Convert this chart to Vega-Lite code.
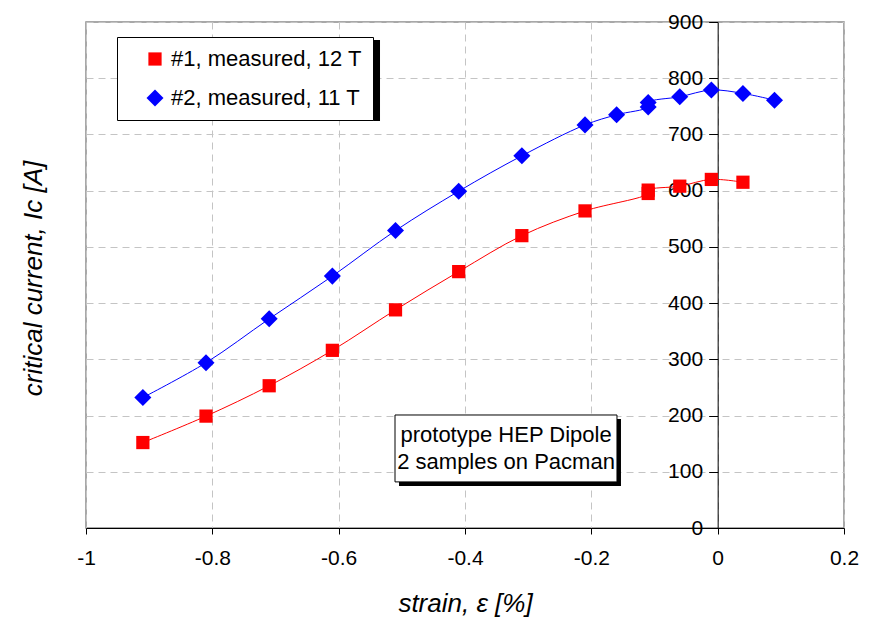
{
  "$schema": "https://vega.github.io/schema/vega-lite/v6.json",
  "width": 758,
  "height": 506,
  "autosize": "none",
  "padding": {"left": 86, "top": 22, "right": 39, "bottom": 106},
  "background": "white",
  "config": {
    "font": "Liberation Sans",
    "view": {"stroke": "#8c8c8c", "strokeWidth": 1.5},
    "axis": {"labelFont": "Liberation Sans", "titleFont": "Liberation Sans", "labelColor": "black", "titleColor": "black"}
  },
  "datasets": {
    "measurements": [
      {"strain": -0.91, "current": 152, "sample": "#1, measured, 12 T"},
      {"strain": -0.81, "current": 199, "sample": "#1, measured, 12 T"},
      {"strain": -0.71, "current": 253, "sample": "#1, measured, 12 T"},
      {"strain": -0.61, "current": 316, "sample": "#1, measured, 12 T"},
      {"strain": -0.51, "current": 388, "sample": "#1, measured, 12 T"},
      {"strain": -0.41, "current": 456, "sample": "#1, measured, 12 T"},
      {"strain": -0.31, "current": 520, "sample": "#1, measured, 12 T"},
      {"strain": -0.21, "current": 564, "sample": "#1, measured, 12 T"},
      {"strain": -0.11, "current": 595, "sample": "#1, measured, 12 T"},
      {"strain": -0.11, "current": 601, "sample": "#1, measured, 12 T"},
      {"strain": -0.06, "current": 608, "sample": "#1, measured, 12 T"},
      {"strain": -0.01, "current": 620, "sample": "#1, measured, 12 T"},
      {"strain": 0.04, "current": 615, "sample": "#1, measured, 12 T"},
      {"strain": -0.91, "current": 232, "sample": "#2, measured, 11 T"},
      {"strain": -0.81, "current": 294, "sample": "#2, measured, 11 T"},
      {"strain": -0.71, "current": 372, "sample": "#2, measured, 11 T"},
      {"strain": -0.61, "current": 448, "sample": "#2, measured, 11 T"},
      {"strain": -0.51, "current": 529, "sample": "#2, measured, 11 T"},
      {"strain": -0.41, "current": 599, "sample": "#2, measured, 11 T"},
      {"strain": -0.31, "current": 662, "sample": "#2, measured, 11 T"},
      {"strain": -0.21, "current": 717, "sample": "#2, measured, 11 T"},
      {"strain": -0.16, "current": 735, "sample": "#2, measured, 11 T"},
      {"strain": -0.11, "current": 749, "sample": "#2, measured, 11 T"},
      {"strain": -0.11, "current": 757, "sample": "#2, measured, 11 T"},
      {"strain": -0.06, "current": 767, "sample": "#2, measured, 11 T"},
      {"strain": -0.01, "current": 779, "sample": "#2, measured, 11 T"},
      {"strain": 0.04, "current": 773, "sample": "#2, measured, 11 T"},
      {"strain": 0.09, "current": 761, "sample": "#2, measured, 11 T"}
    ]
  },
  "layer": [
    {
      "data": {"name": "measurements"},
      "mark": {"type": "line", "strokeWidth": 1, "interpolate": "catmull-rom"},
      "encoding": {
        "x": {
          "field": "strain", "type": "quantitative",
          "scale": {"domain": [-1, 0.2], "nice": false, "zero": false},
          "axis": {
            "values": [-1, -0.8, -0.6, -0.4, -0.2, 0, 0.2],
            "labelExpr": "toString(datum.value)",
            "labelFlush": false,
            "labelFontSize": 21,
            "labelPadding": 13,
            "tickSize": 6,
            "tickColor": "black",
            "domainColor": "black",
            "grid": true,
            "gridColor": "#c4c4c4",
            "gridDash": [7, 5],
            "title": "strain, ε [%]",
            "titleFontSize": 26,
            "titleFontStyle": "italic",
            "titleFontWeight": "normal",
            "titlePadding": 22
          }
        },
        "y": {
          "field": "current", "type": "quantitative",
          "scale": {"domain": [0, 900], "nice": false},
          "axis": {
            "values": [0, 100, 200, 300, 400, 500, 600, 700, 800, 900],
            "labelFontSize": 21,
            "labelPadding": 6,
            "tickSize": 9,
            "tickColor": "black",
            "domainColor": "black",
            "offset": -631.67,
            "grid": true,
            "gridColor": "#c4c4c4",
            "gridDash": [7, 5],
            "title": "critical current, Ic [A]",
            "titleFontSize": 26,
            "titleFontStyle": "italic",
            "titleFontWeight": "normal",
            "titleAngle": 270,
            "titleAlign": "center",
            "titleBaseline": "middle",
            "titleX": -684,
            "titleY": 256
          }
        },
        "stroke": {"field": "sample", "type": "nominal", "scale": {"range": ["#ff0000", "#0000ff"]}, "legend": null}
      }
    },
    {
      "data": {"name": "measurements"},
      "mark": {"type": "point", "filled": true, "opacity": 1},
      "encoding": {
        "x": {"field": "strain", "type": "quantitative"},
        "y": {"field": "current", "type": "quantitative"},
        "color": {
          "field": "sample", "type": "nominal",
          "scale": {"range": ["#ff0000", "#0000ff"]},
          "legend": {
            "title": null,
            "orient": "none",
            "legendX": 31,
            "legendY": 15,
            "strokeColor": "black",
            "fillColor": "white",
            "padding": 11,
            "labelFontSize": 22,
            "labelFont": "Liberation Sans",
            "labelColor": "black",
            "labelLimit": 400,
            "labelExpr": "datum.label + ' '",
            "symbolSize": 100,
            "symbolOffset": 16,
            "labelOffset": 5,
            "rowPadding": 17
          }
        },
        "shape": {
          "field": "sample", "type": "nominal",
          "scale": {"range": ["square", "diamond"]}
        },
        "size": {
          "field": "sample", "type": "nominal",
          "scale": {"range": [175, 290]},
          "legend": null
        }
      }
    },
    {
      "data": {"values": [{"note": "prototype HEP Dipole\n2 samples on Pacman"}]},
      "layer": [
        {
          "mark": {"type": "rect", "fill": "black", "xOffset": 4, "x2Offset": 4, "yOffset": 4, "y2Offset": 4},
          "encoding": {
            "x": {"datum": -0.5108, "type": "quantitative"},
            "x2": {"datum": -0.1594},
            "y": {"datum": 201, "type": "quantitative"},
            "y2": {"datum": 82}
          }
        },
        {
          "mark": {"type": "rect", "fill": "white", "stroke": "black", "strokeWidth": 1},
          "encoding": {
            "x": {"datum": -0.5108, "type": "quantitative"},
            "x2": {"datum": -0.1594},
            "y": {"datum": 201, "type": "quantitative"},
            "y2": {"datum": 82}
          }
        },
        {
          "mark": {"type": "text", "fontSize": 22, "font": "Liberation Sans", "color": "black", "align": "center", "baseline": "middle", "lineBreak": "\n", "lineHeight": 27},
          "encoding": {
            "x": {"datum": -0.335, "type": "quantitative"},
            "y": {"datum": 165.4, "type": "quantitative"},
            "text": {"field": "note"}
          }
        }
      ]
    },
    {
      "data": {"values": [{"box": "legend frame"}]},
      "mark": {"type": "rect", "fill": "black", "xOffset": 3, "x2Offset": 3, "yOffset": 3, "y2Offset": 3},
      "encoding": {
        "x": {"datum": -0.951, "type": "quantitative"},
        "x2": {"datum": -0.5393},
        "y": {"datum": 873.3, "type": "quantitative"},
        "y2": {"datum": 729.3}
      }
    }
  ]
}
